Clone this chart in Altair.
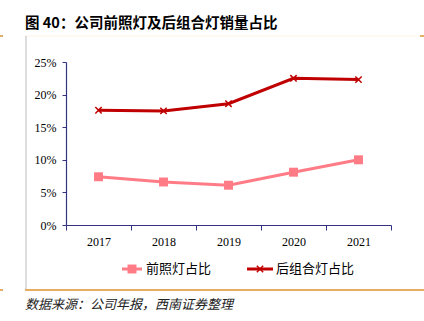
import altair as alt
import pandas as pd

years = ["2017", "2018", "2019", "2020", "2021"]
front = [0.074, 0.066, 0.061, 0.081, 0.100]
rear = [0.176, 0.175, 0.186, 0.225, 0.223]
series_names = ["前照灯占比", "后组合灯占比"]
colors = ["#FF7C86", "#C00000"]
y_ticks = [0, 0.05, 0.1, 0.15, 0.2, 0.25]

title_text = "图 40：公司前照灯及后组合灯销量占比"
source_text = "数据来源：公司年报，西南证券整理"

df = pd.DataFrame({
    "year": years * 2,
    "value": front + rear,
    "series": [series_names[0]] * len(years) + [series_names[1]] * len(years),
})

CJK = "Noto Sans CJK SC"
SERIF = "Liberation Serif"
AXIS = "#33337F"
cross = "M-1,-1L1,1M1,-1L-1,1"

x_enc = alt.X("year:N", title=None,
              scale=alt.Scale(paddingInner=0, paddingOuter=0),
              axis=alt.Axis(labelAngle=0, labelFont=SERIF, labelFontSize=12,
                            labelColor="#000000", domainColor=AXIS, tickColor=AXIS,
                            tickBand="extent", tickSize=5, labelPadding=6,
                            domainWidth=1.2, grid=False))
y_enc = alt.Y("value:Q", title=None,
              scale=alt.Scale(domain=[0, 0.25], nice=False),
              axis=alt.Axis(format=".0%", values=y_ticks,
                            labelFont=SERIF, labelFontSize=12, labelColor="#000000",
                            labelOverlap=False, labelFlush=False,
                            domainColor=AXIS, tickColor=AXIS, tickSize=4,
                            labelPadding=6, domainWidth=1.2, grid=False))
col = alt.Color("series:N", scale=alt.Scale(domain=series_names, range=colors), legend=None)

base = alt.Chart(df)
lines = base.mark_line(strokeWidth=3).encode(x=x_enc, y=y_enc, color=col)
sq = base.transform_filter(alt.datum.series == series_names[0]).mark_point(
    shape="square", filled=True, size=80, opacity=1, color=colors[0]
).encode(x=x_enc, y=y_enc)
cr = base.transform_filter(alt.datum.series == series_names[1]).mark_point(
    shape=cross, filled=False, size=40, strokeWidth=1.5, opacity=1, color=colors[1]
).encode(x=x_enc, y=y_enc)

# legend (manual)
leg = pd.DataFrame({"name": series_names})
l1 = alt.Chart(leg).transform_filter(alt.datum.name == series_names[0])
l2 = alt.Chart(leg).transform_filter(alt.datum.name == series_names[1])
leg1_line = l1.mark_rule(color=colors[0], strokeWidth=3).encode(
    x=alt.value(56), x2=alt.value(76), y=alt.value(207))
leg1_pt = l1.mark_point(shape="square", filled=True, size=80, opacity=1, color=colors[0]).encode(
    x=alt.value(66), y=alt.value(207))
leg1_txt = l1.mark_text(align="left", baseline="middle", font=CJK, fontSize=13, color="#000000").encode(
    x=alt.value(80), y=alt.value(207), text="name:N")
leg2_line = l2.mark_rule(color=colors[1], strokeWidth=3).encode(
    x=alt.value(181), x2=alt.value(207), y=alt.value(207))
leg2_pt = l2.mark_point(shape=cross, filled=False, size=40, strokeWidth=1.5, opacity=1, color=colors[1]).encode(
    x=alt.value(194), y=alt.value(207))
leg2_txt = l2.mark_text(align="left", baseline="middle", font=CJK, fontSize=13, color="#000000").encode(
    x=alt.value(210), y=alt.value(207), text="name:N")

# decorations
deco = alt.Chart(pd.DataFrame({"t": [title_text], "s": [source_text]}))
title = deco.mark_text(align="left", baseline="middle", font=CJK, fontSize=14.5,
                       fontWeight="bold", color="#000000").encode(
    x=alt.value(-41), y=alt.value(-38), text="t:N")
source = deco.mark_text(align="left", baseline="middle", font=CJK, fontSize=13,
                        fontStyle="italic", color="#222222").encode(
    x=alt.value(-41), y=alt.value(243), text="s:N")
top_line = deco.mark_rule(color="#FBF5E8", strokeWidth=1).encode(
    x=alt.value(-41), x2=alt.value(354), y=alt.value(-26))
top_l = deco.mark_rule(color="#D9963A", strokeWidth=1.5).encode(
    x=alt.value(-66), x2=alt.value(-63), y=alt.value(-26))
top_r = deco.mark_rule(color="#D9963A", strokeWidth=1.5).encode(
    x=alt.value(354), x2=alt.value(358), y=alt.value(-26))
bot_line = deco.mark_rule(color="#E0922E", strokeWidth=1.5).encode(
    x=alt.value(-41), x2=alt.value(358), y=alt.value(228))
bot_l = deco.mark_rule(color="#E0922E", strokeWidth=1.5).encode(
    x=alt.value(-66), x2=alt.value(-63), y=alt.value(228))
vline = deco.mark_rule(color="#BBBBBB", strokeWidth=1).encode(
    x=alt.value(-40), y=alt.value(-26), y2=alt.value(227))

chart = alt.layer(
    lines, sq, cr,
    leg1_line, leg1_pt, leg1_txt, leg2_line, leg2_pt, leg2_txt,
    title, source, top_line, top_l, top_r, bot_line, bot_l, vline,
).properties(
    width=325, height=163,
    autosize=alt.AutoSizeParams(type="none"),
    padding={"left": 66, "top": 62, "right": 33, "bottom": 96},
    background="#FFFFFF",
).configure_view(stroke=None)

chart.save("out.html", embed_options={"renderer": "svg", "actions": False})
